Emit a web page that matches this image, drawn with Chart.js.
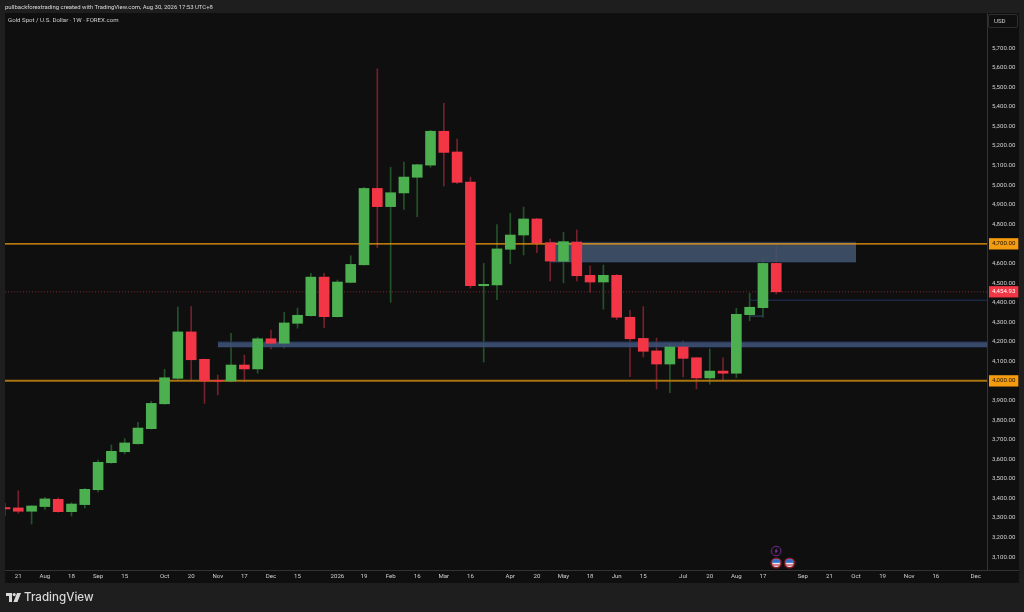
<!DOCTYPE html>
<html>
<head>
<meta charset="utf-8">
<title>Gold Spot / U.S. Dollar</title>
<script src="https://cdn.jsdelivr.net/npm/chart.js@4"></script>
<style>
  html, body { margin: 0; padding: 0; width: 1024px; height: 612px; background: #1e1e1e; overflow: hidden; }
  body { font-family: Roboto, "Liberation Sans", sans-serif; color: #c8c8c8; }
  #panel { position: absolute; left: 5px; top: 13px; width: 1014px; height: 570px; background: #0f0f0f; }
  #myChart { position: absolute; left: 0; top: 0; }
  .txt { position: absolute; white-space: nowrap; }
  #credit { left: 5px; top: 3px; font-size: 5.95px; line-height: 8px; color: #dcdcdc; }
  #symbol { left: 8px; top: 16px; font-size: 6.1px; line-height: 8px; color: #d0d0d0; }
  #usd { left: 988px; top: 14px; width: 28px; height: 12px; border: 1px solid #2e2e2e; border-radius: 2px; font-size: 6.1px; line-height: 12px; text-indent: 5px; color: #d0d0d0; }
  #stub { position: absolute; left: 987px; top: 570px; width: 32px; height: 1px; background: #333; }
  #logo { left: 6px; top: 591px; font-size: 11.6px; line-height: 13px; font-weight: 500; font-family: Inter, Roboto, sans-serif; color: #d8d8d8; }
  #logo svg { position: absolute; left: 0; top: 2px; }
  #logo span { margin-left: 18px; }
</style>
</head>
<body>
<div id="panel"></div>
<canvas id="myChart" width="1024" height="612"></canvas>
<div id="stub"></div>
<div class="txt" id="credit">pullbackforextrading created with TradingView.com, Aug 30, 2026 17:53 UTC+8</div>
<div class="txt" id="symbol">Gold Spot / U.S. Dollar · 1W · FOREX.com</div>
<div class="txt" id="usd">USD</div>
<div class="txt" id="logo">
  <svg width="15" height="9" viewBox="0 0 15 9"><path d="M0 0h6v9H3V3H0z" fill="#d8d8d8"/><circle cx="8.2" cy="1.6" r="1.6" fill="#d8d8d8"/><path d="M11 0h4l-3.6 9H7.4z" fill="#d8d8d8"/></svg>
  <span>TradingView</span>
</div>
<script>
// weekly candles
var opens = [3353,3351,3334,3358,3395,3332,3368,3444,3582,3638,3679,3756,3883,4013,4250,4110,4003,3999,4081,4061,4215,4192,4294,4333,4530,4328,4503,4593,4983,4890,4960,5040,5102,5275,5169,5016,4486,4490,4672,4745,4827,4706,4611,4709,4539,4505,4539,4325,4217,4153,4086,4173,4118,4015,4050,4039,4338,4374,4600];
var highs = [3374,3439,3363,3405,3402,3378,3451,3596,3673,3705,3788,3896,4059,4377,4379,4112,4030,4243,4132,4223,4260,4350,4372,4549,4549,4515,4639,4989,5594,5091,5118,5106,5280,5418,5235,5041,4600,4798,4856,4888,4830,4725,4759,4771,4588,4592,4544,4360,4379,4219,4192,4204,4120,4164,4118,4371,4447,4629,4694];
var lows = [3310,3324,3269,3344,3329,3310,3351,3433,3579,3627,3677,3754,3880,4008,3999,3885,3928,3995,3995,4039,4163,4168,4269,4331,4272,4326,4501,4591,4680,4401,4876,4838,5091,4995,5007,4474,4096,4415,4598,4643,4655,4510,4500,4510,4452,4366,4312,4021,4122,3959,3940,4020,3959,3983,3998,4016,4307,4325,4444];
var closes = [3346,3334,3361,3397,3332,3371,3446,3584,3640,3683,3759,3885,4016,4250,4108,3999,3998,4081,4061,4215,4192,4296,4335,4530,4328,4505,4595,4983,4890,4961,5041,5104,5275,5167,5014,4486,4493,4674,4745,4827,4704,4612,4711,4537,4505,4539,4325,4215,4151,4086,4173,4115,4015,4050,4039,4340,4376,4600,4454.93];

// time axis
var tickWeeks = [1,3,5,7,9,12,14,16,18,20,22,25,27,29,31,33,35,38,40,42,44,46,48,51,53,55,57,60,62,64,66,68,70,73];
var tickNames = ['21','Aug','18','Sep','15','Oct','20','Nov','17','Dec','15','2026','19','Feb','16','Mar','16','Apr','20','May','18','Jun','15','Jul','20','Aug','17','Sep','21','Oct','19','Nov','16','Dec'];

// price axis
var priceTicks = [3100,3200,3300,3400,3500,3600,3700,3800,3900,4000,4100,4200,4300,4400,4454.93,4500,4600,4700,4800,4900,5000,5100,5200,5300,5400,5500,5600,5700];
var levelPrices = [4700,4000];
var lastPrice = 4454.93;

// drawn zones and lines
var upperZoneX = [41,64];
var upperZoneTop = [4708,4708];
var upperZoneBottom = [4607,4607];
var lowerZoneX = [16,74];
var lowerZoneTop = [4199,4199];
var lowerZoneBottom = [4173,4173];
var longLineX = [56,74];
var longLineY = [4412,4412];
var shortLineX = [56,57];
var shortLineY = [4331,4331];

// event markers
var lightningX = [58];
var lightningY = [3131];
var flagX = [58,59];
var flagY = [3070,3070];

function pairs(xs, ys){
    return xs.map(function(x, i){ return {x: x, y: ys[i]}; });
}

function flatLine(xs, ys, color, width, order, dash){
    return {
        type: 'line', data: pairs(xs, ys), borderColor: color, borderWidth: width,
        borderDash: dash || [], pointRadius: 0, order: order, fill: false
    };
}

function zone(xs, ys, fillColor, edge, fillTo){
    return {
        type: 'line', data: pairs(xs, ys), borderColor: edge, borderWidth: 1,
        pointRadius: 0, order: 6, fill: fillTo, backgroundColor: fillColor
    };
}

function lightningIcon(){
    var c = document.createElement('canvas');
    c.width = 12; c.height = 12;
    var g = c.getContext('2d');
    g.strokeStyle = '#7a2f96'; g.lineWidth = 1;
    g.beginPath(); g.arc(6, 6, 4.8, 0, Math.PI * 2); g.stroke();
    g.fillStyle = '#9a3fc0';
    g.beginPath(); g.moveTo(6.8, 2.8); g.lineTo(4.4, 6.4); g.lineTo(5.8, 6.4); g.lineTo(5.2, 9.2); g.lineTo(7.6, 5.5); g.lineTo(6.2, 5.5); g.closePath(); g.fill();
    return c;
}

function flagIcon(){
    var c = document.createElement('canvas');
    c.width = 12; c.height = 12;
    var g = c.getContext('2d');
    g.fillStyle = '#8f1d28';
    g.beginPath(); g.arc(6, 6, 5.6, 0, Math.PI * 2); g.fill();
    g.save();
    g.beginPath(); g.arc(6, 6, 3.9, 0, Math.PI * 2); g.clip();
    g.fillStyle = '#e8e8f0'; g.fillRect(1, 1, 10, 10);
    g.fillStyle = '#2f6fd0'; g.fillRect(1, 1, 10, 4.8);
    g.fillStyle = '#d0404a'; g.fillRect(1, 7.4, 10, 1.2);
    g.restore();
    return c;
}

var weeks = opens.map(function(o, i){ return i; });
var candleColors = opens.map(function(o, i){ return closes[i] >= o ? '#4caf50' : '#f23645'; });
var wickColors = opens.map(function(o, i){ return closes[i] >= o ? '#24532a' : '#74202d'; });

var bodies = weeks.map(function(i){ return {x: i, y: [opens[i], closes[i]]}; });
var wicks = weeks.map(function(i){ return {x: i, y: [lows[i], highs[i]]}; });

var myChart = document.getElementById('myChart').getContext('2d');

var chart = new Chart(myChart, {
    type: 'bar',
    data: {
        datasets: [
            {label: 'body', data: bodies, backgroundColor: candleColors, barThickness: 10, grouped: false, order: 1},
            {label: 'wick', data: wicks, backgroundColor: wickColors, barThickness: 1, grouped: false, order: 7},
            flatLine([0,74], levelPrices.slice(0,1).concat(levelPrices.slice(0,1)), '#f59b10', 1.4, 4),
            flatLine([0,74], levelPrices.slice(1).concat(levelPrices.slice(1)), '#a9730f', 2, 4),
            flatLine([0,74], [lastPrice,lastPrice], '#7a2530', 1, 5, [1,2]),
            flatLine(longLineX, longLineY, '#1f3560', 1, 5),
            flatLine(shortLineX, shortLineY, '#37496e', 1, 5),
            zone(upperZoneX, upperZoneTop, 'rgba(66,84,110,0.88)', '#22304a', '+1'),
            zone(upperZoneX, upperZoneBottom, 'rgba(0,0,0,0)', '#22304a', false),
            zone(lowerZoneX, lowerZoneTop, 'rgba(64,84,122,0.85)', '#22304a', '+1'),
            zone(lowerZoneX, lowerZoneBottom, 'rgba(0,0,0,0)', '#22304a', false),
            {type: 'scatter', data: pairs(lightningX, lightningY), pointStyle: lightningIcon(), order: 0},
            {type: 'scatter', data: pairs(flagX, flagY), pointStyle: flagIcon(), order: 0}
        ]
    },
    options: {
        responsive: false,
        animation: false,
        events: [],
        layout: {padding: {left: 5, top: 13, right: 5, bottom: 29}},
        plugins: {legend: {display: false}, tooltip: {enabled: false}, title: {display: false}},
        scales: {
            x: {
                type: 'linear',
                offset: false,
                min: 0,
                max: 73.85,
                grid: {display: false, drawTicks: false},
                border: {color: '#333', width: 1},
                afterFit: function(scale){ scale.height = 13; },
                ticks: {
                    stepSize: 1,
                    includeBounds: false,
                    autoSkip: false,
                    maxRotation: 0,
                    padding: 3,
                    color: '#d0d0d0',
                    font: {family: 'Roboto', size: 6.1},
                    callback: function(v){
                        var k = tickWeeks.indexOf(v);
                        return k < 0 ? '' : tickNames[k];
                    }
                }
            },
            y: {
                position: 'right',
                min: 3034,
                max: 5879,
                grid: {display: false, drawTicks: false},
                border: {color: '#333', width: 1},
                afterFit: function(scale){ scale.width = 32; },
                afterBuildTicks: function(scale){
                    scale.ticks = priceTicks.map(function(v){ return {value: v}; });
                },
                ticks: {
                    autoSkip: false,
                    padding: 5,
                    font: {family: 'Roboto', size: 6.1},
                    color: function(c){
                        if(c.tick.value === lastPrice) return '#ffffff';
                        return levelPrices.indexOf(c.tick.value) >= 0 ? '#1a1408' : '#d0d0d0';
                    },
                    showLabelBackdrop: function(c){
                        return c.tick.value === lastPrice || levelPrices.indexOf(c.tick.value) >= 0;
                    },
                    backdropColor: function(c){
                        return c.tick.value === lastPrice ? '#f23645' : '#f59b10';
                    },
                    backdropPadding: {x: 3, y: 2},
                    callback: function(v){
                        return Number(v).toLocaleString('en-US', {minimumFractionDigits: 2, maximumFractionDigits: 2});
                    }
                }
            }
        }
    }
});
</script>
</body>
</html>
